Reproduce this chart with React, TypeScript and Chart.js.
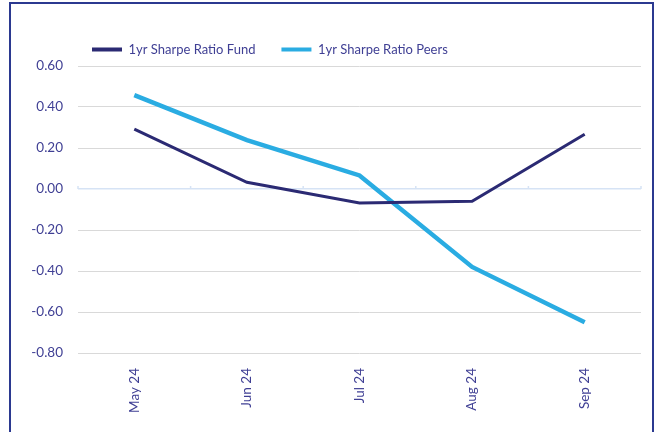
import React, { useEffect, useRef } from "react";
import { Chart, registerables } from "chart.js";

Chart.register(...registerables);

const categories = ["May 24", "Jun 24", "Jul 24", "Aug 24", "Sep 24"];
const fundValues = [0.292, 0.033, -0.068, -0.06, 0.267];
const peersValues = [0.458, 0.238, 0.066, -0.38, -0.65];
const seriesNames = ["1yr Sharpe Ratio Fund", "1yr Sharpe Ratio Peers"];
const yMin = -0.8;
const yMax = 0.6;
const yStep = 0.2;

const TEXT = "#3f3f94";
const FONT = "Lato, 'Liberation Sans', sans-serif";

const zeroMarks = {
  id: "zeroMarks",
  afterDatasetsDraw(chart: any) {
    const x = chart.scales.x;
    const y = chart.scales.y;
    const ctx = chart.ctx;
    const y0 = y.getPixelForValue(0);
    const half = (x.getPixelForValue(1) - x.getPixelForValue(0)) / 2;
    ctx.save();
    ctx.strokeStyle = "#d6e3f5";
    ctx.lineWidth = 1.5;
    for (let i = 0; i <= categories.length; i++) {
      const px = i < categories.length ? x.getPixelForValue(i) - half : x.right;
      ctx.beginPath();
      ctx.moveTo(px, y0);
      ctx.lineTo(px, y0 - 3);
      ctx.stroke();
    }
    ctx.restore();
  },
};

const legendShift = {
  id: "legendShift",
  afterLayout(chart: any) {
    if (chart.legend) chart.legend.left = 66;
  },
};

export default function App() {
  const ref = useRef<HTMLCanvasElement>(null);
  useEffect(() => {
    const chart = new Chart(ref.current!, {
      type: "line",
      data: {
        labels: categories,
        datasets: [
          {
            label: seriesNames[0],
            data: fundValues,
            borderColor: "#2b2a73",
            backgroundColor: "#2b2a73",
            borderWidth: 3,
            pointRadius: 0,
            tension: 0,
          },
          {
            label: seriesNames[1],
            data: peersValues,
            borderColor: "#2aace2",
            backgroundColor: "#2aace2",
            borderWidth: 4.5,
            pointRadius: 0,
            tension: 0,
          },
        ],
      },
      options: {
        animation: false,
        responsive: false,
        layout: { padding: { top: 17, right: 21, bottom: 0, left: 0 } },
        plugins: {
          legend: {
            position: "top",
            align: "start",
            labels: {
              boxWidth: 30,
              boxHeight: 0,
              padding: 26,
              color: TEXT,
              font: { family: FONT, size: 13 },
              generateLabels: (c: any) =>
                c.data.datasets.map((d: any, i: number) => ({
                  text: d.label,
                  fillStyle: d.borderColor,
                  strokeStyle: d.borderColor,
                  lineWidth: 4,
                  datasetIndex: i,
                  fontColor: TEXT,
                })),
            },
          },
          tooltip: { enabled: false },
        },
        scales: {
          x: {
            offset: true,
            grid: { display: false },
            border: { display: false },
            ticks: {
              color: TEXT,
              font: { family: FONT, size: 13.5 },
              minRotation: 90,
              maxRotation: 90,
              padding: 7,
            },
            afterFit: (s: any) => {
              s.height = 79;
            },
          },
          y: {
            min: yMin,
            max: yMax,
            border: { display: false },
            grid: {
              drawTicks: false,
              color: (c: any) => (c.tick && Math.abs(c.tick.value) < 1e-9 ? "#d6e3f5" : "#d9d9d9"),
              lineWidth: (c: any) => (c.tick && Math.abs(c.tick.value) < 1e-9 ? 1.5 : 1),
            },
            ticks: {
              stepSize: yStep,
              color: TEXT,
              padding: 15,
              font: { family: FONT, size: 13.5 },
              callback: (v: any) => (Math.abs(Number(v)) < 1e-9 ? 0 : Number(v)).toFixed(2),
            },
            afterFit: (s: any) => {
              s.width = 78;
            },
          },
        },
      },
      plugins: [zeroMarks, legendShift],
    } as any);
    return () => chart.destroy();
  }, []);
  return (
    <div style={{ position: "fixed", left: 0, top: 0, width: 662, height: 432, background: "#fff", overflow: "hidden" }}>
      <div
        style={{
          position: "absolute",
          left: 9,
          top: 2,
          width: 645,
          height: 450,
          border: "2px solid #2b3990",
          boxSizing: "border-box",
        }}
      />
      <canvas ref={ref} width={662} height={432} style={{ position: "absolute", left: 0, top: 0 }} />
    </div>
  );
}
